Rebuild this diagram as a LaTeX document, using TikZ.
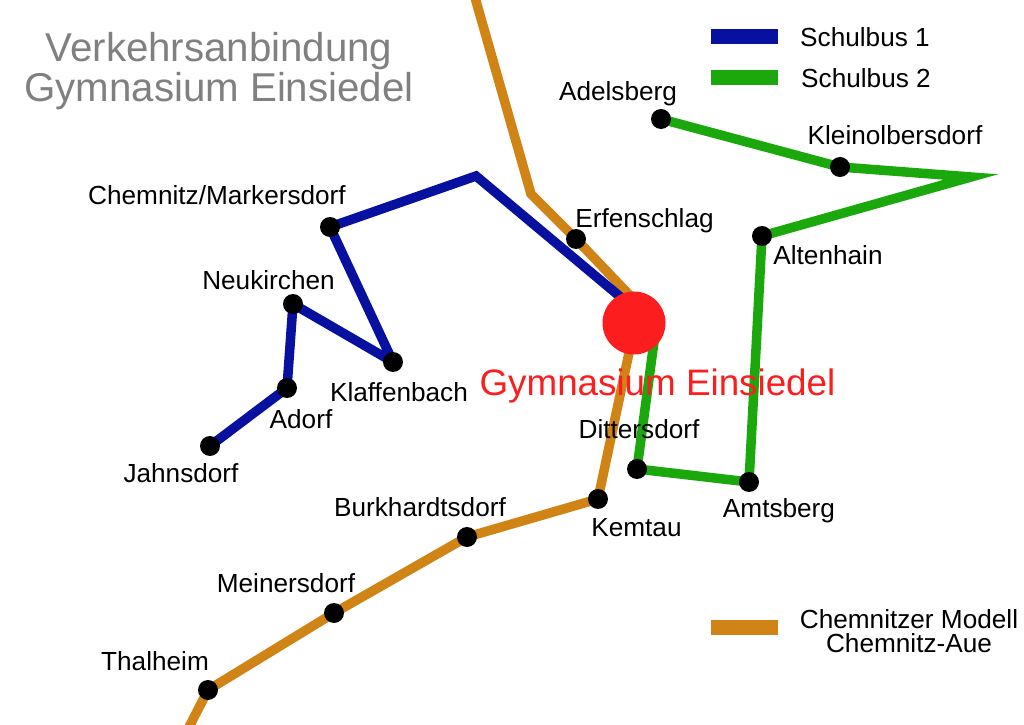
\documentclass[tikz,border=0pt]{standalone}
\usepackage{fontspec}
\setmainfont{Liberation Sans}
\usetikzlibrary{backgrounds}
\definecolor{busblue}{RGB}{8,16,160}
\definecolor{busgreen}{RGB}{26,168,12}
\definecolor{railorange}{RGB}{208,132,22}
\definecolor{titlegrey}{RGB}{128,128,128}
\definecolor{schoolred}{RGB}{252,30,30}
\tikzset{
  station/.style={circle,fill=black,inner sep=0pt,minimum size=0.2cm},
  place/.style={font=\fontsize{7.45pt}{6.8pt}\selectfont,inner sep=0pt,text=black},
  busone/.style={line width=0.095cm,color=busblue,miter limit=3},
  bustwo/.style={line width=0.095cm,color=busgreen},
  railway/.style={line width=0.095cm,color=railorange},
  legendbar/.style={line width=0.15cm}
}
\begin{document}
\begin{tikzpicture}

    \useasboundingbox (0,0) rectangle (10.24,7.24);

    % Bends and free ends
    \coordinate (railtop) at (4.74,7.30);
    \coordinate (railbend) at (5.31,5.30);
    \coordinate (railjoin) at (6.38,4.20);
    \coordinate (railsouth) at (6.33,3.90);
    \coordinate (railend) at (1.88,-0.05);
    \coordinate (bluebend) at (4.76,5.48);
    \coordinate (bluejoin) at (6.30,4.19);
    \coordinate (greentip) at (9.71,5.47);
    \coordinate (greenjoin) at (6.55,3.90);

    % Stations
    \node[station] (adelsberg) at (6.61,6.05) {};
    \node[station] (kleinolbersdorf) at (8.40,5.57) {};
    \node[station] (altenhain) at (7.62,4.88) {};
    \node[station] (amtsberg) at (7.49,2.42) {};
    \node[station] (dittersdorf) at (6.37,2.55) {};
    \node[station] (erfenschlag) at (5.76,4.85) {};
    \node[station] (kemtau) at (5.98,2.25) {};
    \node[station] (burkhardtsdorf) at (4.67,1.87) {};
    \node[station] (meinersdorf) at (3.34,1.11) {};
    \node[station] (thalheim) at (2.08,0.34) {};
    \node[station] (markersdorf) at (3.30,4.97) {};
    \node[station] (klaffenbach) at (3.93,3.62) {};
    \node[station] (neukirchen) at (2.93,4.20) {};
    \node[station] (adorf) at (2.87,3.36) {};
    \node[station] (jahnsdorf) at (2.10,2.78) {};

    % School
    \node[circle,fill=schoolred,inner sep=0pt,minimum size=0.63cm] (school) at (6.34,4.01) {};

    % Lines
    \begin{scope}[on background layer]
      \draw[railway] (railtop) -- (railbend) -- (erfenschlag.center) -- (railjoin);
      \draw[railway] (railsouth) -- (kemtau.center) -- (burkhardtsdorf.center) -- (meinersdorf.center) -- (thalheim.center) -- (railend);
      \draw[busone] (bluejoin) -- (bluebend) -- (markersdorf.center) -- (klaffenbach.center) -- (neukirchen.center) -- (adorf.center) -- (jahnsdorf.center);
      \draw[bustwo] (adelsberg.center) -- (kleinolbersdorf.center) -- (greentip) -- (altenhain.center) -- (amtsberg.center) -- (dittersdorf.center) -- (greenjoin);
    \end{scope}

    % Place names
    \node[place] (adelsberglabel) at (6.18,6.30) {Adelsberg};
    \node[place] (kleinolbersdorflabel) at (8.95,5.89) {Kleinolbersdorf};
    \node[place] (altenhainlabel) at (8.28,4.69) {Altenhain};
    \node[place] (amtsberglabel) at (7.79,2.13) {Amtsberg};
    \node[place] (dittersdorflabel) at (6.39,2.95) {Dittersdorf};
    \node[place] (erfenschlaglabel) at (6.445,5.03) {Erfenschlag};
    \node[place] (kemtaulabel) at (6.365,1.96) {Kemtau};
    \node[place] (burkhardtsdorflabel) at (4.20,2.17) {Burkhardtsdorf};
    \node[place] (meinersdorflabel) at (2.86,1.41) {Meinersdorf};
    \node[place] (thalheimlabel) at (1.55,0.63) {Thalheim};
    \node[place] (markersdorflabel) at (2.17,5.29) {Chemnitz/Markersdorf};
    \node[place] (klaffenbachlabel) at (3.99,3.32) {Klaffenbach};
    \node[place] (neukirchenlabel) at (2.685,4.44) {Neukirchen};
    \node[place] (adorflabel) at (3.01,3.05) {Adorf};
    \node[place] (jahnsdorflabel) at (1.81,2.51) {Jahnsdorf};

    % Title and school name
    \node[align=center,text=titlegrey,font=\fontsize{11.45pt}{11.4pt}\selectfont,inner sep=0pt] (title) at (2.19,6.53) {Verkehrsanbindung\\Gymnasium Einsiedel};
    \node[text=schoolred,font=\fontsize{10.47pt}{13pt}\selectfont,inner sep=0pt] (schoollabel) at (6.575,3.38) {Gymnasium Einsiedel};

    % Legend
    \coordinate (legendonea) at (7.11,6.87);
    \coordinate (legendoneb) at (7.78,6.87);
    \coordinate (legendtwoa) at (7.11,6.46);
    \coordinate (legendtwob) at (7.78,6.46);
    \coordinate (legendthreea) at (7.11,0.96);
    \coordinate (legendthreeb) at (7.78,0.96);
    \draw[legendbar,color=busblue] (legendonea) -- (legendoneb);
    \draw[legendbar,color=busgreen] (legendtwoa) -- (legendtwob);
    \draw[legendbar,color=railorange] (legendthreea) -- (legendthreeb);
    \node[place] (legendone) at (8.65,6.87) {Schulbus 1};
    \node[place] (legendtwo) at (8.66,6.46) {Schulbus 2};
    \node[place,align=center] (legendthree) at (9.09,0.93) {Chemnitzer Modell\\Chemnitz-Aue};
\end{tikzpicture}
\end{document}
